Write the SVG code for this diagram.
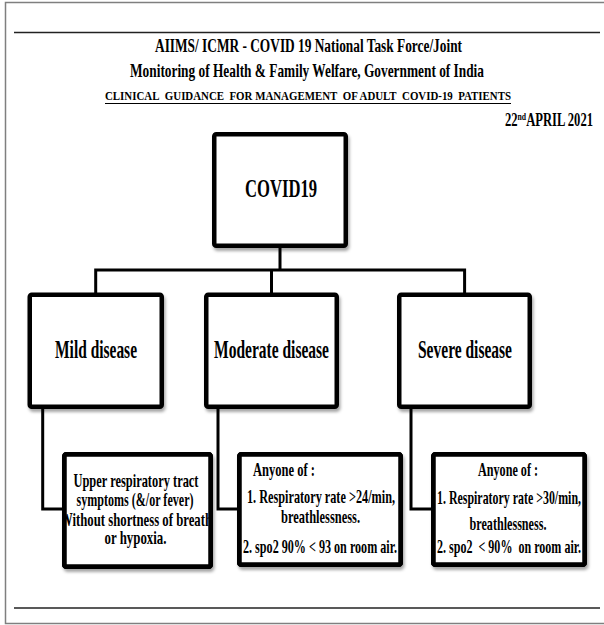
<svg xmlns="http://www.w3.org/2000/svg" width="604" height="625" viewBox="0 0 604 625">
<defs>
<style>
text{font-family:"Liberation Serif","Times New Roman",serif;font-weight:bold;fill:#000}
.t{font-size:18px}
.bt{font-size:25px}
.dt{font-size:19.5px}
.box{fill:#fff;stroke:#000;stroke-width:4.5;filter:url(#sh)}
.bd{fill:none;stroke:#000;stroke-width:4.5}
.con{fill:none;stroke:#000;stroke-width:3}
</style>
<filter id="sh" x="-10%" y="-10%" width="130%" height="130%">
<feDropShadow dx="1.5" dy="3" stdDeviation="1.5" flood-color="#000" flood-opacity="0.35"/>
</filter>
<clipPath id="cm"><rect x="62" y="452" width="151" height="117"/></clipPath>
</defs>
<rect x="5.5" y="2.5" width="620" height="621" fill="#fff" stroke="#7f7f7f" stroke-width="1.5"/>
<line x1="14" y1="32.5" x2="600" y2="32.5" stroke="#222" stroke-width="1.5"/>
<line x1="14" y1="608" x2="600" y2="608" stroke="#222" stroke-width="1.5"/>
<g id="title">
<text class="t" x="155" y="51.5" textLength="307" lengthAdjust="spacingAndGlyphs">AIIMS/ ICMR - COVID 19 National Task Force/Joint</text>
<text x="130" y="76.5" style="font-size:19px" textLength="354" lengthAdjust="spacingAndGlyphs">Monitoring of Health &amp; Family Welfare, Government of India</text>
<text x="105" y="100" style="font-size:13.5px" textLength="406" lengthAdjust="spacingAndGlyphs">CLINICAL&#160; GUIDANCE&#160; FOR MANAGEMENT&#160; OF ADULT&#160; COVID-19&#160; PATIENTS</text>
<line x1="105" y1="103.5" x2="511" y2="103.5" stroke="#000" stroke-width="1"/>
<text class="t" x="505" y="126" textLength="88" lengthAdjust="spacingAndGlyphs">22<tspan dy="-6" style="font-size:11px">nd</tspan><tspan dy="6">APRIL 2021</tspan></text>
</g>
<g id="connectors">
<path class="con" d="M280,248 V270"/>
<path class="con" d="M95.7,293 V270 H464.6 V293"/>
<path class="con" d="M271.5,270 V293"/>
<path class="con" d="M42.7,409 V509 H63"/>
<path class="con" d="M218,409 V509 H238"/>
<path class="con" d="M411,409 V509 H432"/>
</g>
<g id="covid19">
<rect class="box" x="214.25" y="134.25" width="131.5" height="111.5" rx="2"/>
<text class="bt" x="245" y="197" textLength="72" lengthAdjust="spacingAndGlyphs">COVID19</text>
</g>
<g id="mild">
<rect class="box" x="29.75" y="294.75" width="132" height="112" rx="2"/>
<text class="bt" x="55" y="357.5" textLength="82" lengthAdjust="spacingAndGlyphs">Mild disease</text>
</g>
<g id="moderate">
<rect class="box" x="206.25" y="294.75" width="130.5" height="112" rx="2"/>
<text class="bt" x="214" y="357.5" textLength="115" lengthAdjust="spacingAndGlyphs">Moderate disease</text>
</g>
<g id="severe">
<rect class="box" x="399.25" y="294.75" width="130.5" height="112" rx="2"/>
<text class="bt" x="418" y="357.5" textLength="94" lengthAdjust="spacingAndGlyphs">Severe disease</text>
</g>
<g id="mild-detail">
<rect class="box" x="64.25" y="454.25" width="146.5" height="112.5" rx="2"/>
<g clip-path="url(#cm)">
<text class="dt" x="73.5" y="487" textLength="125" lengthAdjust="spacingAndGlyphs">Upper respiratory tract</text>
<text class="dt" x="76.5" y="505.5" textLength="117" lengthAdjust="spacingAndGlyphs">symptoms (&amp;/or fever)</text>
<text class="dt" x="60" y="526" textLength="152" lengthAdjust="spacingAndGlyphs">Without shortness of breath</text>
<text class="dt" x="104.5" y="544" textLength="62" lengthAdjust="spacingAndGlyphs">or hypoxia.</text>
</g>
<rect class="bd" x="64.25" y="454.25" width="146.5" height="112.5" rx="2"/>
</g>
<g id="moderate-detail">
<rect class="box" x="239.25" y="454.25" width="161.5" height="110.5" rx="2"/>
<text class="dt" x="253" y="476" textLength="62" lengthAdjust="spacingAndGlyphs">Anyone of :</text>
<text class="dt" x="247" y="503" textLength="148" lengthAdjust="spacingAndGlyphs">1. Respiratory rate &gt;24/min,</text>
<text class="dt" x="281" y="523" textLength="79" lengthAdjust="spacingAndGlyphs">breathlessness.</text>
<text class="dt" x="243" y="552.5" textLength="154" lengthAdjust="spacingAndGlyphs">2. spo2 90% &lt; 93 on room air.</text>
<rect class="bd" x="239.25" y="454.25" width="161.5" height="110.5" rx="2"/>
</g>
<g id="severe-detail">
<rect class="box" x="433.25" y="454.25" width="151.5" height="110.5" rx="2"/>
<text class="dt" x="478" y="476" textLength="60" lengthAdjust="spacingAndGlyphs">Anyone of :</text>
<text class="dt" x="437" y="504" textLength="144" lengthAdjust="spacingAndGlyphs">1. Respiratory rate &gt;30/min,</text>
<text class="dt" x="469.5" y="530" textLength="77" lengthAdjust="spacingAndGlyphs">breathlessness.</text>
<text class="dt" x="437" y="553" textLength="144" lengthAdjust="spacingAndGlyphs">2. spo2&#160; &lt; 90%&#160; on room air.</text>
<rect class="bd" x="433.25" y="454.25" width="151.5" height="110.5" rx="2"/>
</g>
</svg>
